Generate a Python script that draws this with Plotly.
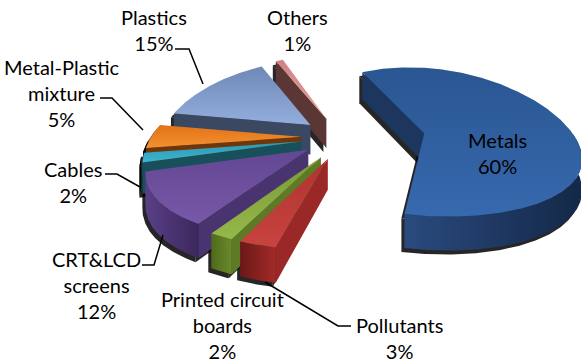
import numpy as np
import plotly.graph_objects as go

# ---------------- data ----------------
categories = ["Metals", "Pollutants", "Printed circuit boards", "CRT&LCD screens",
              "Cables", "Metal-Plastic mixture", "Plastics", "Others"]
shares = [60, 3, 2, 12, 2, 5, 15, 1]
display_names = ["Metals", "Pollutants", "Printed circuit<br>boards", "CRT&LCD<br>screens",
                 "Cables", "Metal-Plastic<br>mixture", "Plastics", "Others"]

# ---------------- style ----------------
explode = [0.55, 0.30, 0.30, 0.28, 0.28, 0.28, 0.28, 0.28]
top_cols = [("#3769AE", "#2A5692"), ("#C8433F", "#AE3431"), ("#95B84A", "#7A9A34"),
            ("#7858A8", "#634793"), ("#3DB3CF", "#2C98B2"), ("#F5902F", "#E07318"),
            ("#93AEDD", "#6E88B7"), ("#E39C9B", "#CF8483")]
wall_cols = [("#2A4A7E", "#142848"), ("#6B1818", "#A32B29"), ("#4E6A1C", "#6B8A2A"),
             ("#5A3F86", "#3B285C"), ("#164E5A", "#11404A"), ("#8A4410", "#6E360A"),
             ("#3B4962", "#333F55"), ("#5C3836", "#5C3836")]
side_cols = ["#1D365E", "#9A2826", "#5E7A24", "#4A3470", "#174F5B", "#6E360A",
             "#3A4861", "#5A3735"]
label_pos = [(497, 153), (399, 338), (222, 325), (96, 285), (73, 182), (62, 93),
             (154, 30), (297, 30)]
leaders = [None,
           [(265, 282), (338, 326), (351, 326)],
           None,
           [(142, 265), (154, 265), (163, 235)],
           [(105, 174), (117, 174), (140, 187)],
           [(100, 98), (112, 98), (143, 130)],
           [(175, 49), (189, 49), (203, 84)],
           None]

W, H = 581, 363
CX, CY = 343.0, 137.0
R = 150.0
KR = 74.0
PERSP = 0.228
T = 30.0
START = -23.0


def proj(X, Y, z=0.0):
    X = np.asarray(X, float)
    Y = np.asarray(Y, float)
    s = 1.0 / (1.0 + PERSP * Y / R)
    q = np.sqrt(s)
    return CX + s * X, CY - KR * (Y / R) * q + z * T * q


fig = go.Figure()
cum = np.concatenate([[0], np.cumsum(shares)])
total = cum[-1]

slices = []
for i in range(len(shares)):
    a0 = START + 360.0 * cum[i] / total
    a1 = START + 360.0 * cum[i + 1] / total
    b = np.radians((a0 + a1) / 2)
    ox, oy = explode[i] * R * np.sin(b), explode[i] * R * np.cos(b)
    th_deg = np.linspace(a0, a1, max(6, int((a1 - a0) * 2) + 1))
    th = np.radians(th_deg)
    AX, AY = ox + R * np.sin(th), oy + R * np.cos(th)
    polys = []  # (xs, ys, kind, colors)
    # outer wall (front facing part)
    vis = np.cos(th) < 0
    idx = np.where(vis)[0]
    if len(idx) > 1:
        runs = np.split(idx, np.where(np.diff(idx) > 1)[0] + 1)
        for run in runs:
            if len(run) < 2:
                continue
            tx, ty = proj(AX[run], AY[run], 0)
            bx, by = proj(AX[run], AY[run], 1)
            xs = np.r_[tx, bx[::-1], tx[0]]
            ys = np.r_[ty, by[::-1], ty[0]]
            polys.append((xs, ys, "wall", wall_cols[i]))
    # radial faces
    ra0, ra1 = np.radians(a0), np.radians(a1)
    for ang, visible in ((ra0, np.sin(ra0) < 0), (ra1, np.sin(ra1) > 0)):
        if visible:
            px, py = ox + R * np.sin(ang), oy + R * np.cos(ang)
            x0, y0 = proj([ox, px], [oy, py], 0)
            x1, y1 = proj([px, ox], [py, oy], 1)
            xs = np.r_[x0, x1, x0[0]]
            ys = np.r_[y0, y1, y0[0]]
            polys.append((xs, ys, "side", side_cols[i]))
    # top face
    tx, ty = proj(np.r_[ox, AX, ox], np.r_[oy, AY, oy], 0)
    polys.append((tx, ty, "top", top_cols[i]))
    depth = oy + 0.5 * R * np.cos(b)
    slices.append((depth, i, polys))

slices.sort(key=lambda t: -t[0])

# shadows
for depth, i, polys in slices:
    for xs, ys, kind, col in polys:
        fig.add_trace(go.Scatter(x=xs - 3, y=ys + 4, mode="lines", fill="toself",
                                 fillcolor="rgba(0,0,0,0.85)", line=dict(width=0),
                                 hoverinfo="skip", showlegend=False))

for depth, i, polys in slices:
    for xs, ys, kind, col in polys:
        if kind == "top":
            fg = dict(type="vertical", colorscale=[[0, col[0]], [1, col[1]]])
        elif kind == "wall":
            fg = dict(type="horizontal", colorscale=[[0, col[0]], [1, col[1]]])
        else:
            fg = None
        kw = dict(x=xs, y=ys, mode="lines", fill="toself", line=dict(width=0),
                  name=categories[i], hoverinfo="name", showlegend=False)
        if fg is not None:
            kw["fillgradient"] = fg
            kw["fillcolor"] = col[0]
        else:
            kw["fillcolor"] = col
        fig.add_trace(go.Scatter(**kw))

# leader lines
shapes = []
for ld in leaders:
    if ld is None:
        continue
    path = "M " + " L ".join(f"{x},{y}" for x, y in ld)
    shapes.append(dict(type="path", path=path, xref="x", yref="y",
                       line=dict(color="black", width=1.5)))

annotations = []
for i, (name, v) in enumerate(zip(display_names, shares)):
    x, y = label_pos[i]
    annotations.append(dict(x=x, y=y, xref="x", yref="y", text=f"{name}<br>{v}%",
                            showarrow=False, xanchor="center", yanchor="middle",
                            align="center",
                            font=dict(family="Lato, Carlito, sans-serif", size=20,
                                      color="black")))

fig.update_layout(width=W, height=H, margin=dict(l=0, r=0, t=0, b=0),
                  paper_bgcolor="white", plot_bgcolor="white", showlegend=False,
                  xaxis=dict(range=[0, W], visible=False, fixedrange=True),
                  yaxis=dict(range=[H, 0], visible=False, fixedrange=True),
                  shapes=shapes, annotations=annotations)
fig.write_html("out.html")
